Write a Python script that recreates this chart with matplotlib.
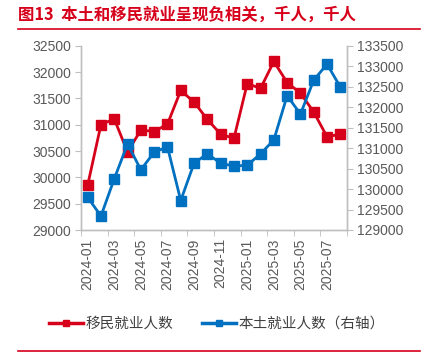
import matplotlib
matplotlib.use("Agg")
from matplotlib import pyplot as plt
from matplotlib.lines import Line2D

# dati (migliaia)
mesi = ["2024-01", "2024-02", "2024-03", "2024-04", "2024-05", "2024-06", "2024-07",
        "2024-08", "2024-09", "2024-10", "2024-11", "2024-12", "2025-01", "2025-02",
        "2025-03", "2025-04", "2025-05", "2025-06", "2025-07", "2025-08"]
migranti = [29850, 31000, 31110, 30480, 30900, 30870, 31010, 31650, 31430, 31100,
            30820, 30740, 31780, 31690, 32200, 31800, 31600, 31240, 30770, 30820]
nativi = [129800, 129340, 130250, 131100, 130470, 130900, 131030, 129720, 130630, 130860,
          130630, 130560, 130580, 130860, 131200, 132280, 131830, 132660, 133050, 132490]

ROSSO = "#D7001B"
BLU = "#0070C0"
GRIGIO = "#595959"
ASSE = "#BFBFBF"
NUM = ["Liberation Sans", "Noto Sans CJK SC"]
CJK = ["Noto Sans CJK SC", "DejaVu Sans"]

f1 = plt.figure(figsize=(4.30, 3.52), dpi=100)
ax1 = f1.add_axes([81/430, 1 - 230/352, (347 - 81)/430, (230 - 45.7)/352])
ax2 = ax1.twinx()

x = list(range(len(mesi)))
ax1.plot(x, migranti, color=ROSSO, lw=2.0, marker="s", ms=6.5, zorder=3)
ax2.plot(x, nativi, color=BLU, lw=2.0, marker="s", ms=6.5, zorder=3)

ax1.set_xlim(-0.5, len(mesi) - 0.5)
ax1.set_ylim(29000, 32500)
ax2.set_ylim(129000, 133500)
ax1.set_yticks(range(29000, 32501, 500))
ax2.set_yticks(range(129000, 133501, 500))

ax1.set_xticks(x[::2])
ax1.set_xticklabels(mesi[::2], rotation=90, family=NUM, fontsize=10, color=GRIGIO)
ax1.set_xticks([i - 0.5 for i in range(0, len(mesi) + 1, 2)], minor=True)
ax1.tick_params(axis="x", which="major", length=0, pad=6)
ax1.tick_params(axis="x", which="minor", length=4, color=ASSE, direction="out")

for lab in ax1.get_yticklabels():
    lab.set_family(NUM)
for lab in ax2.get_yticklabels():
    lab.set_family(NUM)
ax1.tick_params(axis="y", length=4, color=ASSE, labelsize=10, labelcolor=GRIGIO, pad=3)
ax2.tick_params(axis="y", length=4, color=ASSE, labelsize=10, labelcolor=GRIGIO, pad=3)

for ax in (ax1, ax2):
    ax.spines["top"].set_visible(False)
    for s in ("left", "right", "bottom"):
        ax.spines[s].set_color(ASSE)
        ax.spines[s].set_linewidth(1.0)

# legenda
h1 = Line2D([], [], color=ROSSO, lw=2.5, marker="s", ms=5)
h2 = Line2D([], [], color=BLU, lw=2.5, marker="s", ms=5)
leg = f1.legend((h1, h2), ("移民就业人数", "本土就业人数（右轴）"), loc="center",
                bbox_to_anchor=(0.505, 1 - 324/352), ncol=2, frameon=False,
                prop={"family": CJK, "size": 10.5}, handlelength=2.3, handletextpad=0.2,
                columnspacing=2.0)
for t in leg.get_texts():
    t.set_color("#404040")

# titolo e righe rosse
f1.text(18/430, 1 - 15/352, "图13  本土和移民就业呈现负相关，千人，千人", color=ROSSO,
        fontsize=11.8, fontweight="bold", family=CJK, va="center", ha="left")
f1.add_artist(Line2D([18/430, 420/430], [1 - 28.5/352, 1 - 28.5/352], color=ROSSO, lw=1.2))
f1.add_artist(Line2D([18/430, 420/430], [1 - 350.5/352, 1 - 350.5/352], color=ROSSO, lw=1.2))

f1.savefig("out.png", dpi=100)
